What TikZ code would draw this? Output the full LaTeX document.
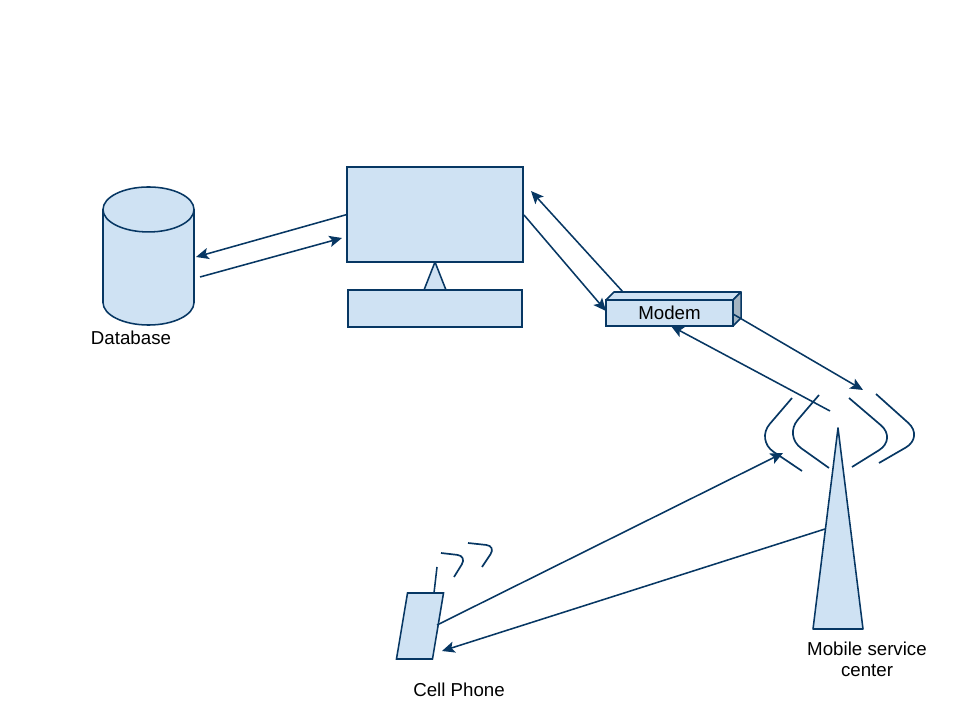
\documentclass[tikz,border=0pt]{standalone}
\usepackage{xcolor}
\usepackage{fontspec}
\setmainfont{Liberation Sans}
\usetikzlibrary{calc, shapes.geometric, arrows.meta, positioning}
\definecolor{lineNavy}{HTML}{073763}
\definecolor{fillBlue}{HTML}{CFE2F3}
\definecolor{sideGrey}{HTML}{A5B5C2}
\begin{document}
\begin{tikzpicture}[x=0.025cm, y=-0.025cm,
        box/.style={rectangle, draw=lineNavy, fill=fillBlue, line width=1.1pt, outer sep=0pt, inner sep=0pt},
        shell/.style={draw=lineNavy, fill=fillBlue, line width=1.1pt, line join=round},
        wave/.style={draw=lineNavy, line width=1.2pt, rounded corners=15pt},
        waveSmall/.style={draw=lineNavy, line width=1.2pt, rounded corners=7pt},
        arrow/.style={-{Stealth[length=9pt, width=8pt, inset=2pt]}, draw=lineNavy, line width=1.1pt},
        link/.style={draw=lineNavy, line width=1.1pt},
        label/.style={font=\fontsize{13.3}{15}\selectfont, align=center, text=black}]
        \useasboundingbox (0,0) rectangle (960,720);

        % Database
        \node[cylinder, shape border rotate=90, aspect=4.8, anchor=shape center, draw=lineNavy, fill=fillBlue, line width=1.1pt, outer sep=0pt,
              minimum width=2.275cm, minimum height=3.45cm] (db) at (148.5,256) {};
        \node[label] (dbLabel) at (131,338) {Database};

        % Computer
        \node[box, minimum width=4.4cm, minimum height=2.375cm] (screen) at (435,214.5) {};
        \node[box, minimum width=4.35cm, minimum height=0.925cm] (base) at (435,308.5) {};
        \path[shell] (screen.south) -- (base.north -| 424,0) -- (base.north -| 446,0) -- cycle;

        % Modem
        \node[box, minimum width=3.175cm, minimum height=0.65cm, font=\fontsize{13.3}{15}\selectfont] (modem) at (669.5,313) {Modem};
        \path[shell] (modem.north west) -- ++(8,-8) -- ($(modem.north east)+(8,-8)$) -- ($(modem.north east)$) -- cycle;
        \path[shell, fill=sideGrey] (modem.north east) -- ++(8,-8) -- ++(0,26) -- (modem.south east) -- cycle;

        % Tower
        \coordinate (towerTop) at (838,428);
        \coordinate (towerLeft) at (813,629);
        \coordinate (towerRight) at (863,629);
        \path[shell] (towerTop) -- (towerLeft) -- (towerRight) -- cycle;
        \node[label] (towerLabel) at (867,659.5) {Mobile service\\center};

        % Tower waves
        \draw[wave] (792,398) -- (756,440) -- (802,471);
        \draw[wave] (819,395) -- (784,436) -- (829,468);
        \draw[wave] (849,398) -- (897,439) -- (852,467);
        \draw[wave] (876,394) -- (924,437) -- (879,463);

        % Cell phone
        \node[box, xslant=0.167, minimum width=0.9cm, minimum height=1.65cm] (phone) at (420,626) {};
        \coordinate (phoneTip) at (437,567);
        \draw[link] (434,593) -- (phoneTip);
        \draw[waveSmall] (441,553) -- (467,556) -- (454,577);
        \draw[waveSmall] (468,543) -- (496,546) -- (482,567);
        \node[label] (phoneLabel) at (459,690) {Cell Phone};

        % Free ends
        \coordinate (dbIn) at (196,257);
        \coordinate (dbOut) at (200,277);
        \coordinate (screenIn) at (342,238);
        \coordinate (screenOut) at (524,215);
        \coordinate (screenBack) at (531,191);
        \coordinate (modemIn) at (606,311);
        \coordinate (modemTop) at (623,292);
        \coordinate (modemBottom) at (671,326);
        \coordinate (modemRight) at (733,314);
        \coordinate (waveIn) at (863,390);
        \coordinate (waveOut) at (830,411);
        \coordinate (waveLeft) at (783,453);
        \coordinate (phoneOut) at (437,625);
        \coordinate (phoneIn) at (442,651);
        \coordinate (towerOut) at (825,529);

        % Arrows
        \draw[arrow] (screen.west) -- (dbIn);
        \draw[arrow] (dbOut) -- (screenIn);
        \draw[arrow] (screenOut) -- (modemIn);
        \draw[arrow] (modemTop) -- (screenBack);
        \draw[arrow] (modemRight) -- (waveIn);
        \draw[arrow] (waveOut) -- (modemBottom);
        \draw[arrow] (phoneOut) -- (waveLeft);
        \draw[arrow] (towerOut) -- (phoneIn);
    \end{tikzpicture}
\end{document}
